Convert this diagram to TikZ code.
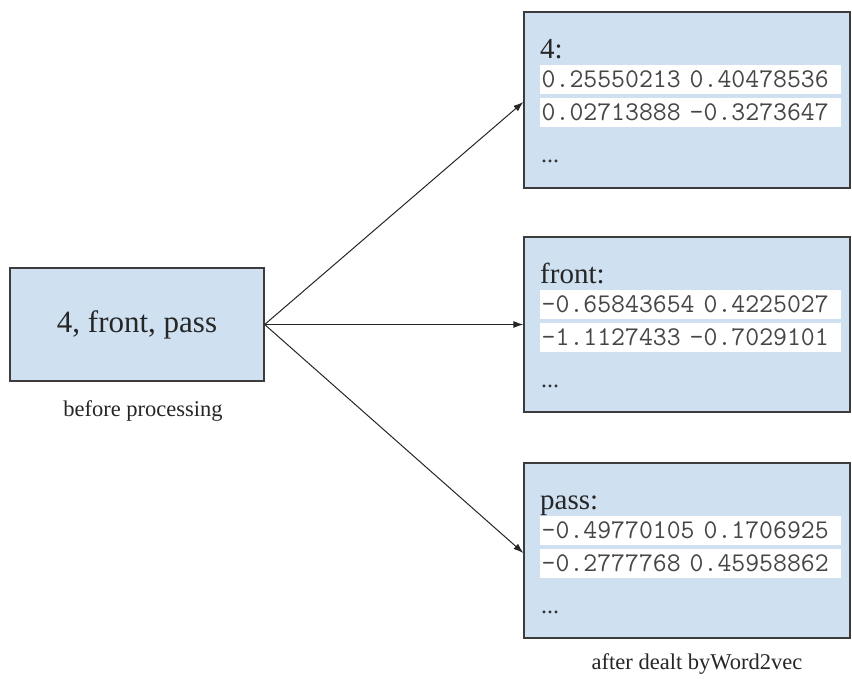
\documentclass[tikz,border=0pt]{standalone}
\usepackage{fontspec}
\setmainfont{Liberation Serif}
\usetikzlibrary{arrows.meta}
\definecolor{boxfill}{RGB}{207,224,241}
\definecolor{boxline}{RGB}{60,60,60}
\definecolor{numgray}{RGB}{70,70,70}
\begin{document}
\begin{tikzpicture}[x=1pt,y=-1pt,
  box/.style={draw=boxline, line width=1.3pt, fill=boxfill, rectangle, inner sep=0pt},
  vecline/.style={fill=white, anchor=west, inner xsep=1.5pt, inner ysep=0pt, minimum height=29pt,
    text width=298pt, align=left, font=\fontsize{27}{28}\selectfont\ttfamily, text=numgray},
  wordlabel/.style={anchor=base west, inner sep=0pt, font=\fontsize{29}{30}\selectfont, text=black!85},
  dots/.style={anchor=base west, inner sep=0pt, font=\fontsize{24}{26}\selectfont, text=black!80},
  caption/.style={inner sep=0pt, font=\fontsize{22.5}{24}\selectfont, text=black!85},
  conn/.style={draw=black!85, line width=1pt, -{Latex[length=10pt,width=7pt]}}
]
\path[fill=white] (0,0) rectangle (852,678);
\useasboundingbox (0,0) rectangle (852,678);

% source box
\node[box, minimum width=254pt, minimum height=113pt, font=\fontsize{31}{33}\selectfont, text=black!85] (src) at (137,324.5) {4, front, pass};
\node[caption] (cap1) at (143,411) {before processing};

% target boxes
\node[box, minimum width=326pt, minimum height=176pt] (v1) at (687,100) {};
\node[box, minimum width=326pt, minimum height=175pt] (v2) at (687,324.5) {};
\node[box, minimum width=326pt, minimum height=175pt] (v3) at (687,550.5) {};

% box 1 content
\node[wordlabel] (w1) at (540,58) {4:};
\node[vecline] (a1) at (540,79.5) {0.25550213 0.40478536};
\node[vecline] (a2) at (540,112) {0.02713888 -0.3273647};
\node[dots] (d1) at (541,162) {...};

% box 2 content
\node[wordlabel] (w2) at (540,283) {front:};
\node[vecline] (b1) at (540,304.5) {-0.65843654 0.4225027};
\node[vecline] (b2) at (540,337) {-1.1127433 -0.7029101};
\node[dots] (d2) at (541,387) {...};

% box 3 content
\node[wordlabel] (w3) at (540,509) {pass:};
\node[vecline] (c1) at (540,530.5) {-0.49770105 0.1706925};
\node[vecline] (c2) at (540,563) {-0.2777768 0.45958862};
\node[dots] (d3) at (541,613) {...};

\node[caption] (cap2) at (697,664) {after dealt byWord2vec};

% connectors
\draw[conn] (src.east) -- ([yshift=-2pt]v1.west);
\draw[conn] (src.east) -- (v2.west);
\draw[conn] (src.east) -- ([yshift=-2.5pt]v3.west);
\end{tikzpicture}
\end{document}
